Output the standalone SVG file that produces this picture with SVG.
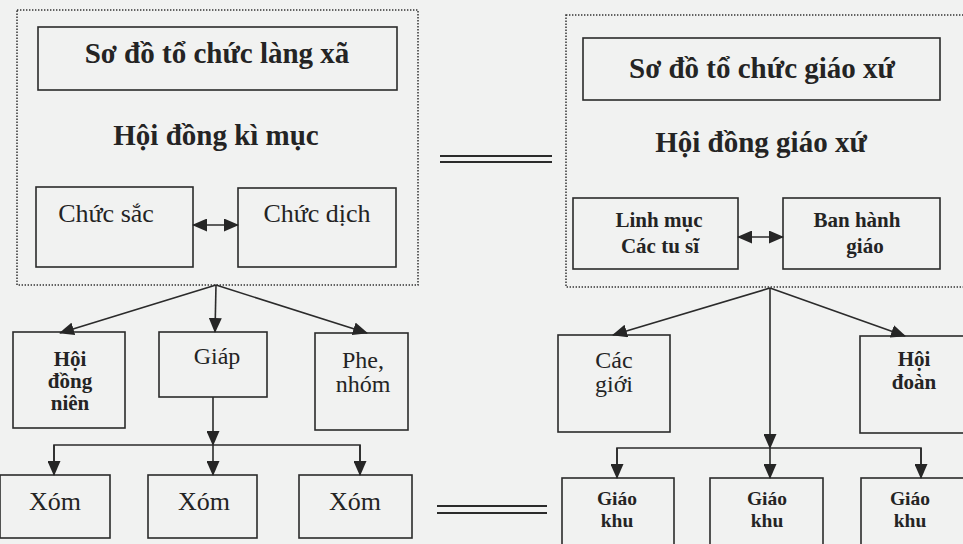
<svg xmlns="http://www.w3.org/2000/svg" width="963" height="544" viewBox="0 0 963 544">
<defs>
<marker id="ah" markerUnits="userSpaceOnUse" markerWidth="15" markerHeight="13" refX="14" refY="6.5" orient="auto-start-reverse" viewBox="0 0 15 13">
<path d="M0,0 L15,6.5 L0,13 z" fill="#262626"/>
</marker>
</defs>
<style>
.box{fill:none;stroke:#2b2b2b;stroke-width:1.6}
.dot{fill:none;stroke:#333;stroke-width:1.5;stroke-dasharray:1.4 1.6}
.ln{fill:none;stroke:#2b2b2b;stroke-width:1.6}
.arr{fill:none;stroke:#2b2b2b;stroke-width:1.6;marker-end:url(#ah)}
.dbl{fill:none;stroke:#2b2b2b;stroke-width:1.6;marker-start:url(#ah);marker-end:url(#ah)}
.eq{stroke:#2b2b2b;stroke-width:2.2}
text{font-family:"Liberation Serif","DejaVu Serif","Times New Roman",serif;fill:#242424;text-anchor:middle}
.t{font-size:29px;font-weight:bold}
.r{font-size:26px}
.rs{font-size:24px}
.b{font-size:21px;font-weight:bold}
.bs{font-size:19.5px;font-weight:bold}
</style>
<rect x="0" y="0" width="963" height="544" fill="#f1f2f1"/>

<g id="left-frame"><rect class="dot" x="17" y="10" width="401" height="275"/></g>
<g id="title-lang-xa"><rect class="box" x="38" y="27" width="359" height="63"/><text class="t" x="217" y="63">Sơ đồ tổ chức làng xã</text></g>
<g id="hoi-dong-ki-muc"><text class="t" x="216" y="145">Hội đồng kì mục</text></g>
<g id="chuc-sac"><rect class="box" x="36" y="187" width="157" height="80"/><text class="r" x="106" y="222">Chức sắc</text></g>
<g id="chuc-dich"><rect class="box" x="238" y="188" width="158" height="79"/><text class="r" x="317" y="222">Chức dịch</text></g>

<g id="hoi-dong-nien"><rect class="box" x="13" y="332" width="112" height="96"/><text class="b" x="70" y="366">Hội</text><text class="b" x="70" y="388">đồng</text><text class="b" x="70" y="410">niên</text></g>
<g id="giap"><rect class="box" x="159" y="332" width="108" height="65"/><text class="rs" x="217" y="364">Giáp</text></g>
<g id="phe-nhom"><rect class="box" x="315" y="333" width="93" height="97"/><text class="rs" x="363" y="368">Phe,</text><text class="rs" x="363" y="392">nhóm</text></g>
<g id="xom-1"><rect class="box" x="0" y="475" width="110" height="63"/><text class="r" x="55" y="510">Xóm</text></g>
<g id="xom-2"><rect class="box" x="148" y="475" width="109" height="63"/><text class="r" x="204" y="510">Xóm</text></g>
<g id="xom-3"><rect class="box" x="299" y="475" width="113" height="63"/><text class="r" x="355" y="510">Xóm</text></g>

<g id="right-frame"><rect class="dot" x="566" y="15" width="420" height="272"/></g>
<g id="title-giao-xu"><rect class="box" x="583" y="38" width="357" height="62"/><text class="t" x="762" y="78">Sơ đồ tổ chức giáo xứ</text></g>
<g id="hoi-dong-giao-xu"><text class="t" x="761" y="152">Hội đồng giáo xứ</text></g>
<g id="linh-muc"><rect class="box" x="573" y="198" width="165" height="71"/><text class="b" x="659" y="227">Linh mục</text><text class="b" x="660" y="253">Các tu sĩ</text></g>
<g id="ban-hanh-giao"><rect class="box" x="783" y="198" width="157" height="71"/><text class="b" x="857" y="227">Ban hành</text><text class="b" x="865" y="253">giáo</text></g>

<g id="cac-gioi"><rect class="box" x="558" y="335" width="112" height="97"/><text class="rs" x="614" y="368">Các</text><text class="rs" x="614" y="392">giới</text></g>
<g id="hoi-doan"><rect class="box" x="860" y="336" width="120" height="97"/><text class="b" x="914" y="366">Hội</text><text class="b" x="914" y="389">đoàn</text></g>
<g id="giao-khu-1"><rect class="box" x="562" y="478" width="112" height="80"/><text class="bs" x="617" y="505">Giáo</text><text class="bs" x="617" y="527">khu</text></g>
<g id="giao-khu-2"><rect class="box" x="710" y="478" width="113" height="80"/><text class="bs" x="767" y="505">Giáo</text><text class="bs" x="767" y="527">khu</text></g>
<g id="giao-khu-3"><rect class="box" x="861" y="478" width="120" height="80"/><text class="bs" x="910" y="505">Giáo</text><text class="bs" x="910" y="527">khu</text></g>

<g id="connectors">
<line class="dbl" x1="193" y1="225" x2="238" y2="225"/>
<line class="dbl" x1="738" y1="237" x2="783" y2="237"/>
<line class="eq" x1="440" y1="156" x2="552" y2="156"/>
<line class="eq" x1="440" y1="162" x2="552" y2="162"/>
<line class="eq" x1="437" y1="506" x2="547" y2="506"/>
<line class="eq" x1="437" y1="513" x2="547" y2="513"/>

<line class="arr" x1="216" y1="285" x2="60" y2="333"/>
<line class="arr" x1="216" y1="285" x2="215" y2="332"/>
<line class="arr" x1="216" y1="285" x2="367" y2="333"/>
<line class="arr" x1="213" y1="397" x2="213" y2="445"/>
<polyline class="ln" points="54,475 54,445 360,445 360,475"/>
<line class="arr" x1="54" y1="445" x2="54" y2="475"/>
<line class="arr" x1="213" y1="445" x2="213" y2="475"/>
<line class="arr" x1="360" y1="445" x2="360" y2="475"/>

<line class="arr" x1="770" y1="288" x2="613" y2="335"/>
<line class="arr" x1="770" y1="288" x2="905" y2="336"/>
<line class="arr" x1="770" y1="288" x2="770" y2="448"/>
<polyline class="ln" points="617,478 617,448 921,448 921,478"/>
<line class="arr" x1="617" y1="448" x2="617" y2="478"/>
<line class="arr" x1="770" y1="448" x2="770" y2="478"/>
<line class="arr" x1="921" y1="448" x2="921" y2="478"/>
</g>
</svg>
